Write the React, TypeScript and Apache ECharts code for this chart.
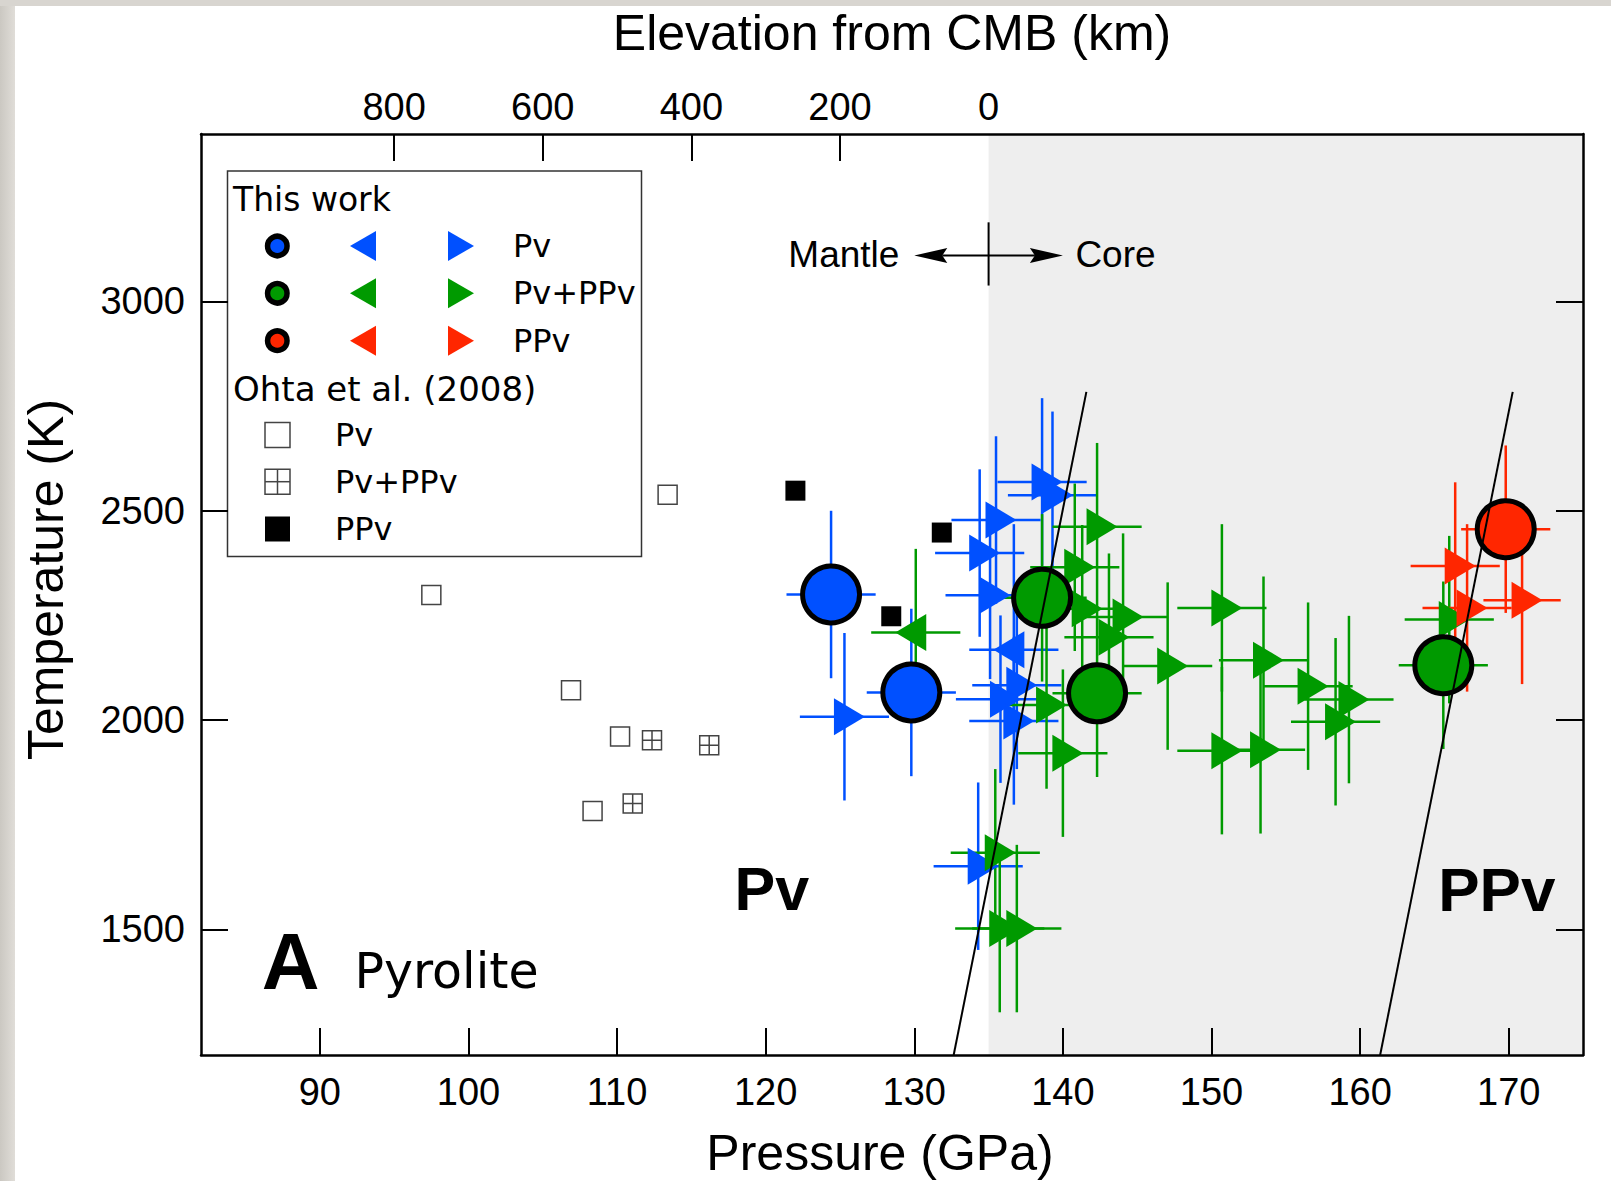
import { useEffect, useRef } from 'react';
import * as echarts from 'echarts';

// ---------- axes ----------
const X_MIN = 82;
const X_MAX = 175;
const Y_MIN = 1200;
const Y_MAX = 3400;
const X_TICKS = [90, 100, 110, 120, 130, 140, 150, 160, 170];
const Y_TICKS = [1500, 2000, 2500, 3000];
const ELEVATION_TICKS = [800, 600, 400, 200];
const ELEVATION_LABELS = [800, 600, 400, 200, 0];
const CMB_PRESSURE = 135; // GPa, elevation 0 km
const KM_PER_GPA = 20;

// ---------- data: [P (GPa), T (K), ±P, -T, +T] ----------
const PV_CIRCLES = [
  [124.4, 2300, 3, 200, 200],
  [129.8, 2066, 3, 200, 200],
];
const PVPPV_CIRCLES = [
  [138.6, 2292, 3, 200, 200],
  [142.3, 2064, 3, 200, 200],
  [165.6, 2131, 3, 200, 200],
];
const PPV_CIRCLES = [[169.8, 2456, 3, 200, 200]];

const PV_RIGHT = [
  [125.3, 2008, 3, 200, 200],
  [134.4, 2399, 3, 200, 200],
  [135.5, 2478, 3, 200, 200],
  [138.6, 2569, 3, 200, 200],
  [139.3, 2537, 3, 200, 200],
  [135.1, 2298, 3, 200, 200],
  [136.9, 2083, 3, 200, 200],
  [135.8, 2050, 3, 200, 200],
  [136.7, 1998, 3, 200, 200],
  [134.3, 1651, 3, 200, 200],
];
const PV_LEFT = [[136.7, 2168, 3, 200, 300]];

const PVPPV_RIGHT = [
  [142.3, 2462, 3, 200, 200],
  [140.8, 2365, 3, 200, 200],
  [141.3, 2266, 3, 200, 200],
  [144.05, 2246, 3, 200, 200],
  [143.1, 2198, 3, 200, 200],
  [147.05, 2129, 3, 200, 200],
  [150.7, 2268, 3, 200, 200],
  [153.5, 2143, 3, 200, 200],
  [156.5, 2081, 3, 200, 200],
  [159.25, 2049, 3, 200, 200],
  [158.35, 1996, 3, 200, 200],
  [150.7, 1927, 3, 200, 200],
  [153.3, 1929, 3, 200, 200],
  [138.9, 2036, 3, 200, 200],
  [140.0, 1921, 3, 200, 200],
  [135.45, 1683, 3, 200, 200],
  [135.75, 1502, 3, 200, 200],
  [136.9, 1502, 3, 200, 200],
  [166.0, 2240, 3, 200, 200],
];
const PVPPV_LEFT = [[130.1, 2209, 3, 150, 200]];

const PPV_RIGHT = [
  [166.4, 2368, 3, 200, 200],
  [167.2, 2268, 3, 200, 200],
  [170.9, 2286, 2.6, 200, 200],
];

// Ohta et al. (2008): [P, T]
const OHTA_PV = [
  [113.4, 2538],
  [97.5, 2299],
  [106.9, 2071],
  [110.2, 1961],
  [108.35, 1783],
];
const OHTA_PVPPV = [
  [112.35, 1952],
  [116.2, 1940],
  [111.05, 1801],
];
const OHTA_PPV = [
  [122.0, 2548],
  [131.85, 2448],
  [128.45, 2248],
];

// phase boundaries
const BOUNDARY_PV = [
  [132.65, 1200],
  [141.58, 2784],
];
const BOUNDARY_PPV = [
  [161.35, 1200],
  [170.27, 2784],
];

// mantle / core marker: [P centre, T, P left tip, P right tip, T tick low, T tick high]
const MANTLE_CORE = [[135, 3110, 130, 140, 3038, 3189]];

// text annotations
const ANNOTATION_TEXTS = ['Pv', 'PPv', 'A', 'Pyrolite', 'Mantle', 'Core'];
const ANNOTATION_COORDS = [
  [120.42, 1596],
  [169.2, 1596],
  [88.04, 1424],
  [92.33, 1400],
  [129.0, 3112],
  [140.84, 3112],
];

// ---------- styles ----------
const BLUE = '#0050ff';
const GREEN = '#009a00';
const RED = '#ff2600';
const HELV = '"Liberation Sans", Arial, Helvetica, sans-serif';
const LUCIDA = '"DejaVu Sans", "Noto Sans", sans-serif';

const ANNOTATION_STYLES: any[] = [
  { fontSize: 61, fontWeight: 'bold', fontFamily: HELV, align: 'center' },
  { fontSize: 62, fontWeight: 'bold', fontFamily: HELV, align: 'center' },
  { fontSize: 80, fontWeight: 'bold', fontFamily: HELV, align: 'center' },
  { fontSize: 49, fontWeight: 'normal', fontFamily: LUCIDA, align: 'left' },
  { fontSize: 37, fontWeight: 'normal', fontFamily: HELV, align: 'right' },
  { fontSize: 37, fontWeight: 'normal', fontFamily: HELV, align: 'left' },
];

const TRI_SIZE = [37, 31];
const TRI_OFFSET = 5;
const CIRCLE_SIZE = 57;

function errorBars(data: number[][], color: string, name: string) {
  return {
    name,
    type: 'custom',
    data,
    encode: { x: 0, y: 1 },
    silent: true,
    renderItem: (_params: any, api: any) => {
      const p = api.value(0);
      const t = api.value(1);
      const dp = api.value(2);
      const dl = api.value(3);
      const du = api.value(4);
      const l = api.coord([p - dp, t]);
      const r = api.coord([p + dp, t]);
      const b = api.coord([p, t - dl]);
      const u = api.coord([p, t + du]);
      return {
        type: 'group',
        children: [
          { type: 'line', shape: { x1: l[0], y1: l[1], x2: r[0], y2: r[1] }, style: { stroke: color, lineWidth: 2.5 } },
          { type: 'line', shape: { x1: b[0], y1: b[1], x2: u[0], y2: u[1] }, style: { stroke: color, lineWidth: 2.5 } },
        ],
      };
    },
  };
}

function triangles(data: number[][], color: string, dir: 'left' | 'right', name: string) {
  return {
    name,
    type: 'scatter',
    data: data.map((d) => [d[0], d[1]]),
    symbol: 'triangle',
    symbolSize: TRI_SIZE,
    symbolRotate: dir === 'right' ? -90 : 90,
    symbolOffset: [dir === 'right' ? TRI_OFFSET : -TRI_OFFSET, 0],
    itemStyle: { color, opacity: 1 },
    silent: true,
  };
}

function circles(data: number[][], color: string, name: string) {
  return {
    name,
    type: 'scatter',
    data: data.map((d) => [d[0], d[1]]),
    symbol: 'circle',
    symbolSize: CIRCLE_SIZE,
    itemStyle: { color, borderColor: '#000', borderWidth: 5, opacity: 1 },
    silent: true,
  };
}

function legendGraphics() {
  const els: any[] = [];
  const txt = (text: string, x: number, y: number, size: number) => ({
    type: 'text',
    x,
    y,
    style: { text, fontSize: size, fontFamily: LUCIDA, fill: '#000', align: 'left', verticalAlign: 'middle' },
  });
  els.push({
    type: 'rect',
    shape: { x: 227.5, y: 171, width: 414, height: 385.5 },
    style: { fill: '#fff', stroke: '#333', lineWidth: 1.5 },
  });
  els.push(txt('This work', 233, 199.5, 33));
  const rowsY = [246, 293.3, 340.7];
  const cols = [BLUE, GREEN, RED];
  const labs = ['Pv', 'Pv+PPv', 'PPv'];
  rowsY.forEach((y, i) => {
    els.push({ type: 'circle', shape: { cx: 277.3, cy: y, r: 9.75 }, style: { fill: cols[i], stroke: '#000', lineWidth: 5.5 } });
    els.push({ type: 'polygon', shape: { points: [[350, y], [376, y - 15], [376, y + 15]] }, style: { fill: cols[i] } });
    els.push({ type: 'polygon', shape: { points: [[448, y - 15], [474, y], [448, y + 15]] }, style: { fill: cols[i] } });
    els.push(txt(labs[i], 513, y, 32));
  });
  els.push(txt('Ohta et al. (2008)', 233, 388.5, 34));
  const sqY = [435, 481.7, 529];
  sqY.forEach((y, i) => {
    const x0 = 265;
    const s = 25;
    if (i === 2) {
      els.push({ type: 'rect', shape: { x: x0, y: y - s / 2, width: s, height: s }, style: { fill: '#000' } });
    } else {
      els.push({ type: 'rect', shape: { x: x0, y: y - s / 2, width: s, height: s }, style: { fill: 'none', stroke: '#444', lineWidth: 1.5 } });
      if (i === 1) {
        els.push({ type: 'line', shape: { x1: x0 + s / 2, y1: y - s / 2, x2: x0 + s / 2, y2: y + s / 2 }, style: { stroke: '#444', lineWidth: 1.5 } });
        els.push({ type: 'line', shape: { x1: x0, y1: y, x2: x0 + s, y2: y }, style: { stroke: '#444', lineWidth: 1.5 } });
      }
    }
    els.push(txt(labs[i], 335, y, 32));
  });
  return els;
}

function buildOption() {
  const axisLine = { show: true, onZero: false, lineStyle: { color: '#000', width: 2.5 } };
  const tickStyle = { color: '#000', width: 2 };
  const labelStyle = { fontSize: 38, color: '#000', fontFamily: HELV };
  const nameStyle = { fontSize: 50, color: '#000', fontFamily: HELV };
  const elevTickP = ELEVATION_TICKS.map((e) => CMB_PRESSURE - e / KM_PER_GPA);
  const elevLabelP = ELEVATION_LABELS.map((e) => CMB_PRESSURE - e / KM_PER_GPA);
  const plain = (v: number) => String(Math.round(v));

  return {
    animation: false,
    backgroundColor: 'transparent',
    grid: { left: 201, right: 28, top: 134, bottom: 126, containLabel: false, outerBoundsMode: 'none' },
    xAxis: [
      {
        type: 'value',
        position: 'bottom',
        min: X_MIN,
        max: X_MAX,
        z: 10,
        axisLine,
        axisTick: { show: true, inside: true, length: 27, lineStyle: tickStyle, customValues: X_TICKS },
        axisLabel: { ...labelStyle, margin: 18, customValues: X_TICKS, formatter: plain },
        splitLine: { show: false },
        name: 'Pressure (GPa)',
        nameLocation: 'middle',
        nameGap: 73,
        nameTextStyle: { ...nameStyle, padding: [0, 24, 0, 0] },
      },
      {
        type: 'value',
        position: 'top',
        min: X_MIN,
        max: X_MAX,
        z: 10,
        axisLine,
        axisTick: { show: true, inside: true, length: 27, lineStyle: tickStyle, customValues: elevTickP },
        axisLabel: {
          ...labelStyle,
          margin: 8,
          customValues: elevLabelP,
          formatter: (v: number) => String(Math.round((CMB_PRESSURE - v) * KM_PER_GPA)),
        },
        splitLine: { show: false },
        name: 'Elevation from CMB (km)',
        nameLocation: 'middle',
        nameGap: 76,
        nameTextStyle: nameStyle,
      },
    ],
    yAxis: [
      {
        type: 'value',
        position: 'left',
        min: Y_MIN,
        max: Y_MAX,
        z: 10,
        axisLine,
        axisTick: { show: true, inside: true, length: 27, lineStyle: tickStyle, customValues: Y_TICKS },
        axisLabel: { ...labelStyle, margin: 16, customValues: Y_TICKS, formatter: plain },
        splitLine: { show: false },
        name: 'Temperature (K)',
        nameLocation: 'middle',
        nameGap: 130,
        nameTextStyle: { ...nameStyle, padding: [0, 0, 0, 30] },
      },
      {
        type: 'value',
        position: 'right',
        min: Y_MIN,
        max: Y_MAX,
        z: 10,
        axisLine,
        axisTick: { show: true, inside: true, length: 27, lineStyle: tickStyle, customValues: Y_TICKS },
        axisLabel: { show: false },
        splitLine: { show: false },
      },
    ],
    graphic: { elements: legendGraphics(), z: 100 },
    series: [
      {
        name: 'Pv boundary',
        type: 'line',
        data: BOUNDARY_PV,
        symbol: 'none',
        silent: true,
        lineStyle: { color: '#000', width: 2 },
        markArea: {
          silent: true,
          itemStyle: { color: '#eeeeee' },
          data: [[{ xAxis: CMB_PRESSURE }, { xAxis: X_MAX }]],
        },
      },
      {
        name: 'Ohta Pv',
        type: 'scatter',
        data: OHTA_PV,
        symbol: 'rect',
        symbolSize: 19,
        itemStyle: { color: 'rgba(0,0,0,0)', borderColor: '#444', borderWidth: 1.5, opacity: 1 },
        silent: true,
      },
      {
        name: 'Ohta Pv+PPv',
        type: 'scatter',
        data: OHTA_PVPPV,
        symbol: 'path://M0,0H20V20H0ZM10,0V20M0,10H20',
        symbolSize: 19,
        itemStyle: { color: 'rgba(0,0,0,0)', borderColor: '#444', borderWidth: 1.5, opacity: 1 },
        silent: true,
      },
      {
        name: 'Ohta PPv',
        type: 'scatter',
        data: OHTA_PPV,
        symbol: 'rect',
        symbolSize: 20,
        itemStyle: { color: '#000', opacity: 1 },
        silent: true,
      },
      errorBars([...PV_RIGHT, ...PV_LEFT], BLUE, 'Pv bars'),
      triangles(PV_RIGHT, BLUE, 'right', 'Pv right'),
      triangles(PV_LEFT, BLUE, 'left', 'Pv left'),
      errorBars([...PVPPV_RIGHT, ...PVPPV_LEFT], GREEN, 'Pv+PPv bars'),
      triangles(PVPPV_RIGHT, GREEN, 'right', 'Pv+PPv right'),
      triangles(PVPPV_LEFT, GREEN, 'left', 'Pv+PPv left'),
      errorBars(PPV_RIGHT, RED, 'PPv bars'),
      triangles(PPV_RIGHT, RED, 'right', 'PPv right'),
      {
        name: 'PPv boundary',
        type: 'line',
        data: BOUNDARY_PPV,
        symbol: 'none',
        silent: true,
        lineStyle: { color: '#000', width: 2 },
      },
      errorBars(PV_CIRCLES, BLUE, 'Pv circle bars'),
      errorBars(PVPPV_CIRCLES, GREEN, 'Pv+PPv circle bars'),
      errorBars(PPV_CIRCLES, RED, 'PPv circle bars'),
      circles(PV_CIRCLES, BLUE, 'Pv circles'),
      circles(PVPPV_CIRCLES, GREEN, 'Pv+PPv circles'),
      circles(PPV_CIRCLES, RED, 'PPv circles'),
      {
        name: 'Mantle/Core',
        type: 'custom',
        data: MANTLE_CORE,
        encode: { x: 0, y: 1 },
        silent: true,
        renderItem: (_params: any, api: any) => {
          const pc = api.value(0);
          const t = api.value(1);
          const c = api.coord([pc, t]);
          const lt = api.coord([api.value(2), t]);
          const rt = api.coord([api.value(3), t]);
          const lo = api.coord([pc, api.value(4)]);
          const hi = api.coord([pc, api.value(5)]);
          const L = 33;
          const H = 7.5;
          const N = 5;
          const y = c[1];
          return {
            type: 'group',
            children: [
              { type: 'line', shape: { x1: lo[0], y1: lo[1], x2: hi[0], y2: hi[1] }, style: { stroke: '#000', lineWidth: 2 } },
              { type: 'line', shape: { x1: lt[0] + L - N, y1: y, x2: rt[0] - L + N, y2: y }, style: { stroke: '#000', lineWidth: 2 } },
              {
                type: 'polygon',
                shape: { points: [[lt[0], y], [lt[0] + L, y - H], [lt[0] + L - N, y], [lt[0] + L, y + H]] },
                style: { fill: '#000' },
              },
              {
                type: 'polygon',
                shape: { points: [[rt[0], y], [rt[0] - L, y - H], [rt[0] - L + N, y], [rt[0] - L, y + H]] },
                style: { fill: '#000' },
              },
            ],
          };
        },
      },
      {
        name: 'Annotations',
        type: 'custom',
        data: ANNOTATION_COORDS.map((c, i) => [c[0], c[1], i]),
        encode: { x: 0, y: 1 },
        silent: true,
        renderItem: (_params: any, api: any) => {
          const i = api.value(2);
          const pt = api.coord([api.value(0), api.value(1)]);
          const s = ANNOTATION_STYLES[i];
          return {
            type: 'text',
            x: pt[0],
            y: pt[1],
            style: {
              text: ANNOTATION_TEXTS[i],
              fontSize: s.fontSize,
              fontWeight: s.fontWeight,
              fontFamily: s.fontFamily,
              fill: '#000',
              align: s.align,
              verticalAlign: 'middle',
            },
          };
        },
      },
    ],
  };
}

export default function App() {
  const ref = useRef<HTMLDivElement>(null);
  useEffect(() => {
    if (!ref.current) return;
    const chart = echarts.init(ref.current, null, { renderer: 'svg' });
    chart.setOption(buildOption() as any);
    return () => chart.dispose();
  }, []);
  return (
    <div style={{ position: 'absolute', left: 0, top: 0, width: 1611, height: 1181, background: '#fff', overflow: 'hidden' }}>
      <div style={{ position: 'absolute', left: 0, top: 0, width: 15, height: 1181, background: 'linear-gradient(to right, #cbc8c2, #e0ddd8)' }} />
      <div style={{ position: 'absolute', left: 0, top: 0, width: 1611, height: 6, background: '#d8d5d0' }} />
      <div ref={ref} style={{ position: 'absolute', left: 0, top: 0, width: 1611, height: 1181 }} />
    </div>
  );
}
